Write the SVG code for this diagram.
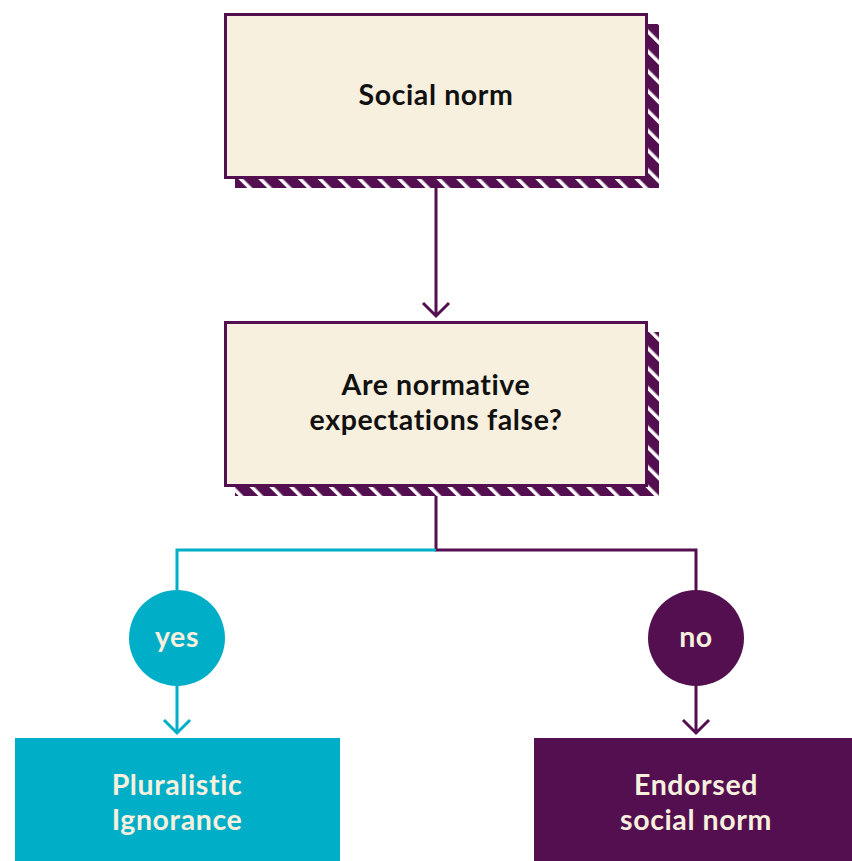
<svg xmlns="http://www.w3.org/2000/svg" width="852" height="861" viewBox="0 0 852 861">
<style>
.box{fill:#f8f0de;stroke:#530f4f;stroke-width:3}
.shadow{fill:url(#hatch)}
.t{font-family:Lato,"Liberation Sans",sans-serif;font-weight:700;font-size:28.5px;letter-spacing:0.6px;text-anchor:middle}
.dark{fill:#111}
.light{fill:#f8f0de}
.p{stroke:#530f4f;stroke-width:3;fill:none}
.c{stroke:#00aec7;stroke-width:3;fill:none}
</style>
<defs>
<pattern id="hatch" width="14" height="14" patternUnits="userSpaceOnUse" patternTransform="rotate(-45)">
<rect width="14" height="14" fill="#530f4f"/>
<rect x="0" y="0" width="3.5" height="14" fill="#ffffff"/>
</pattern>
</defs>
<g id="connectors">
<path class="p" d="M436 188 V316 M423 303 L436 316 L449 303"/>
<path class="p" d="M436 496 V550 H696 V590"/>
<path class="c" d="M436 550 H177 V590"/>
<path class="c" d="M177 686 V733 M164 720 L177 733 L190 720"/>
<path class="p" d="M696 686 V733 M683 720 L696 733 L709 720"/>
</g>
<g id="social-norm">
<rect class="shadow" x="235" y="24" width="424" height="164"/>
<rect class="box" x="225.5" y="14.5" width="421" height="163"/>
<text class="t dark" x="436" y="105">Social norm</text>
</g>
<g id="question">
<rect class="shadow" x="235" y="332" width="424" height="164"/>
<rect class="box" x="225.5" y="322.5" width="421" height="163"/>
<text class="t dark" x="436" y="395">Are normative</text>
<text class="t dark" x="436" y="430">expectations false?</text>
</g>
<g id="yes">
<circle cx="177" cy="638" r="48" fill="#00aec7"/>
<text class="t light" x="177" y="647">yes</text>
</g>
<g id="no">
<circle cx="696" cy="638" r="48" fill="#530f4f"/>
<text class="t light" x="696" y="647">no</text>
</g>
<g id="pluralistic-ignorance">
<rect x="15" y="738" width="325" height="123" fill="#00aec7"/>
<text class="t light" x="177" y="795">Pluralistic</text>
<text class="t light" x="177" y="830">Ignorance</text>
</g>
<g id="endorsed-social-norm">
<rect x="534" y="738" width="318" height="123" fill="#530f4f"/>
<text class="t light" x="696" y="795">Endorsed</text>
<text class="t light" x="696" y="830">social norm</text>
</g>
</svg>
